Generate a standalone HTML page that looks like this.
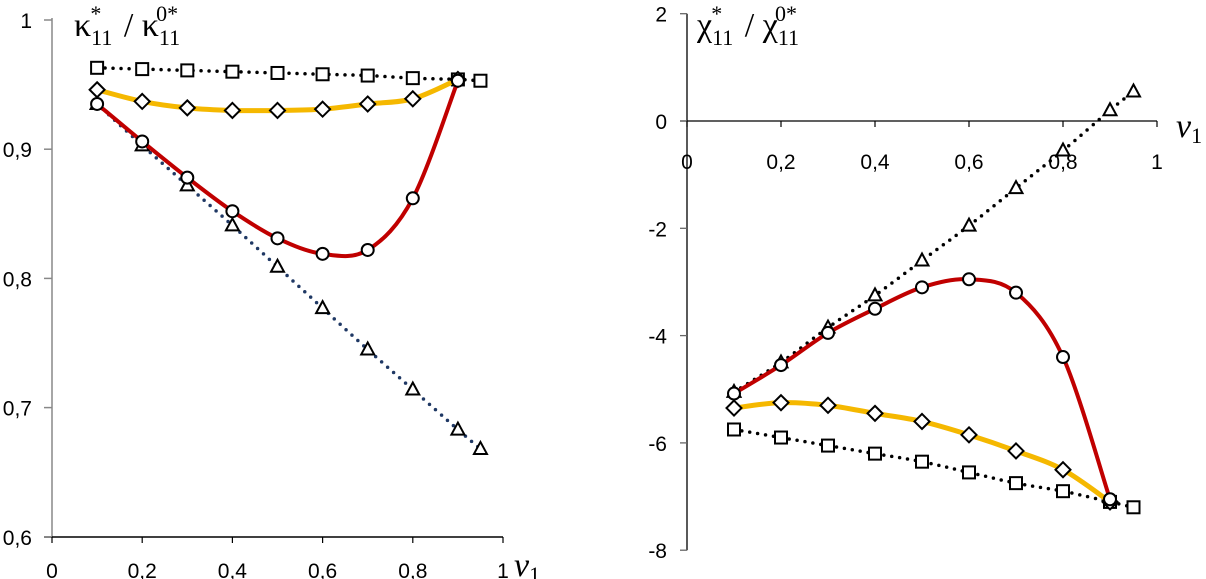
<!DOCTYPE html>
<html><head><meta charset="utf-8"><style>
html,body{margin:0;padding:0;background:#fff;}
svg{display:block;font-family:"Liberation Sans",sans-serif;}
.ti{font-family:"Liberation Serif",serif;font-size:34px;}
</style></head><body>
<svg id="chart" width="1206" height="579" viewBox="0 0 1206 579" xmlns="http://www.w3.org/2000/svg">
<g id="left"></g>
<g id="right"></g>
<text class="ti" x="74" y="36">κ<tspan font-size="22" dy="9">11</tspan><tspan font-size="22" dx="-22" dy="-24">*</tspan><tspan dx="14" dy="15"> / κ</tspan><tspan font-size="22" dy="9">11</tspan><tspan font-size="22" dx="-24" dy="-24">0*</tspan></text>
<text class="ti" x="697" y="36">χ<tspan font-size="22" dy="9">11</tspan><tspan font-size="22" dx="-22" dy="-24">*</tspan><tspan dx="14" dy="15"> / χ</tspan><tspan font-size="22" dy="9">11</tspan><tspan font-size="22" dx="-24" dy="-24">0*</tspan></text>
<text class="ti" font-style="italic" x="514" y="576">v<tspan font-size="22" font-style="normal" dy="6">1</tspan></text>
<text class="ti" font-style="italic" x="1176" y="137">v<tspan font-size="22" font-style="normal" dy="6">1</tspan></text>
</svg>
<script>
const xs = [0.1,0.2,0.3,0.4,0.5,0.6,0.7,0.8,0.9,0.95];
const xs9 = [0.1,0.2,0.3,0.4,0.5,0.6,0.7,0.8,0.9];
const leftSquares = [0.963,0.962,0.961,0.960,0.959,0.958,0.957,0.955,0.954,0.953];
const leftDiamonds = [0.946,0.937,0.932,0.930,0.930,0.931,0.935,0.939,0.954];
const leftCircles = [0.935,0.906,0.878,0.852,0.831,0.819,0.822,0.862,0.953];
const leftTriangles = [0.935,0.903,0.872,0.841,0.809,0.777,0.745,0.714,0.683,0.668];
const rightSquares = [-5.75,-5.9,-6.05,-6.2,-6.35,-6.55,-6.75,-6.9,-7.1,-7.2];
const rightDiamonds = [-5.35,-5.25,-5.3,-5.45,-5.6,-5.85,-6.15,-6.5,-7.1];
const rightCircles = [-5.08,-4.55,-3.95,-3.5,-3.1,-2.95,-3.2,-4.4,-7.05];
const rightTriangles = [-5.05,-4.5,-3.85,-3.25,-2.6,-1.95,-1.25,-0.55,0.2,0.55];
const xTicks = [0,0.2,0.4,0.6,0.8,1];
const xTickLabels = ["0","0,2","0,4","0,6","0,8","1"];
const leftYTicks = [0.6,0.7,0.8,0.9,1];
const leftYLabels = ["0,6","0,7","0,8","0,9","1"];
const rightYTicks = [-8,-6,-4,-2,0,2];
const rightYLabels = ["-8","-6","-4","-2","0","2"];

const NS="http://www.w3.org/2000/svg";
function mk(parent,tag,attrs){const e=document.createElementNS(NS,tag);for(const k in attrs)e.setAttribute(k,attrs[k]);parent.appendChild(e);return e;}
function smooth(pts){let d="M"+pts[0][0]+","+pts[0][1];for(let i=0;i<pts.length-1;i++){const p0=pts[i-1]||pts[i],p1=pts[i],p2=pts[i+1],p3=pts[i+2]||p2;const t=6;d+=" C"+(p1[0]+(p2[0]-p0[0])/t)+","+(p1[1]+(p2[1]-p0[1])/t)+" "+(p2[0]-(p3[0]-p1[0])/t)+","+(p2[1]-(p3[1]-p1[1])/t)+" "+p2[0]+","+p2[1];}return d;}
function label(g,x,y,anchor,txt,name){const t=mk(g,"text",{x:x,y:y,"text-anchor":anchor,fill:"#000",style:"font-size:21px"});t.textContent=txt;
 
 }
function marker(g,type,x,y,name){let e;
 if(type==="sq")e=mk(g,"rect",{x:x-6,y:y-6,width:12,height:12,fill:"#fff",stroke:"#000","stroke-width":2});
 else if(type==="di")e=mk(g,"polygon",{points:`${x},${y-7.5} ${x+7.5},${y} ${x},${y+7.5} ${x-7.5},${y}`,fill:"#fff",stroke:"#000","stroke-width":2});
 else if(type==="ci")e=mk(g,"circle",{cx:x,cy:y,r:6,fill:"#fff",stroke:"#000","stroke-width":2});
 else e=mk(g,"polygon",{points:`${x},${y-7} ${x+6.5},${y+5} ${x-6.5},${y+5}`,fill:"#fff",stroke:"#000","stroke-width":2});
 
 }
function series(g,X,Y,xv,yv,type,style,name){
 const pts=xv.map((v,i)=>[X(v),Y(yv[i])]);
 const p=mk(g,"path",Object.assign({d:smooth(pts),fill:"none"},style));
 
 
 pts.forEach((q,i)=>marker(g,type,q[0],q[1],name+'-point'));}

(function(){
 const g=document.getElementById("left");
 const X=v=>52+v*451, Y=v=>20+(1-v)*1292;
 const ya=mk(g,"line",{x1:52,y1:18,x2:52,y2:538,stroke:"#888","stroke-width":1.5});
 
 
 const xa=mk(g,"line",{x1:44,y1:537,x2:503,y2:537,stroke:"#000","stroke-width":1.5});
 
 
 leftYTicks.forEach((v,i)=>{mk(g,"line",{x1:44,y1:Y(v),x2:52,y2:Y(v),stroke:"#888","stroke-width":1.5});
  label(g,32,Y(v)+8,"end",leftYLabels[i],'left-y-tick-label');});
 xTicks.forEach((v,i)=>{mk(g,"line",{x1:X(v),y1:537,x2:X(v),y2:543,stroke:"#000","stroke-width":1.2});
  label(g,X(v),578,"middle",xTickLabels[i],'left-x-tick-label');});
 series(g,X,Y,xs,leftTriangles,"tr",{stroke:"#1f3864","stroke-width":3.5,"stroke-dasharray":"0 8","stroke-linecap":"round"},"left-triangle-series");
 series(g,X,Y,xs,leftSquares,"sq",{stroke:"#000","stroke-width":3.5,"stroke-dasharray":"0 8","stroke-linecap":"round"},"left-square-series");
 series(g,X,Y,xs9,leftDiamonds,"di",{stroke:"#f5b800","stroke-width":5},"left-diamond-series");
 series(g,X,Y,xs9,leftCircles,"ci",{stroke:"#c00000","stroke-width":4},"left-circle-series");
})();

(function(){
 const g=document.getElementById("right");
 const X=v=>687+v*470, Y=v=>121-v*53.65;
 const ya=mk(g,"line",{x1:687,y1:Y(2),x2:687,y2:Y(-8),stroke:"#000","stroke-width":1.3});
 
 
 const xa=mk(g,"line",{x1:680,y1:Y(0),x2:1157,y2:Y(0),stroke:"#000","stroke-width":1.3});
 
 
 rightYTicks.forEach((v,i)=>{mk(g,"line",{x1:680,y1:Y(v),x2:687,y2:Y(v),stroke:"#666","stroke-width":1.3});
  label(g,667,Y(v)+8,"end",rightYLabels[i],'right-y-tick-label');});
 xTicks.forEach((v,i)=>{mk(g,"line",{x1:X(v),y1:Y(0),x2:X(v),y2:Y(0)+6,stroke:"#000","stroke-width":1.2});
  label(g,X(v),Y(0)+48,"middle",xTickLabels[i],'right-x-tick-label');});
 series(g,X,Y,xs,rightTriangles,"tr",{stroke:"#000","stroke-width":3.5,"stroke-dasharray":"0 8","stroke-linecap":"round"},"right-triangle-series");
 series(g,X,Y,xs,rightSquares,"sq",{stroke:"#000","stroke-width":3.5,"stroke-dasharray":"0 8","stroke-linecap":"round"},"right-square-series");
 series(g,X,Y,xs9,rightDiamonds,"di",{stroke:"#f5b800","stroke-width":5},"right-diamond-series");
 series(g,X,Y,xs9,rightCircles,"ci",{stroke:"#c00000","stroke-width":4},"right-circle-series");
})();
</script>
</body></html>
